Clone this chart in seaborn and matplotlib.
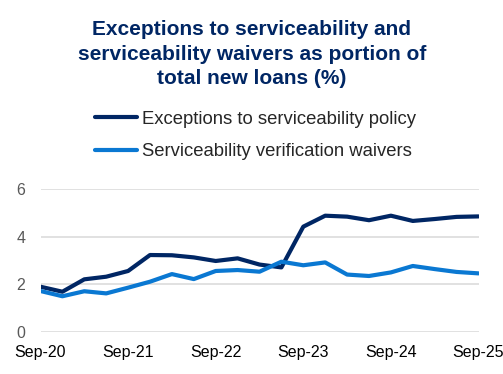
"""Serviceability exceptions and waivers as a share of new loans."""

import matplotlib

matplotlib.use("Agg")
import matplotlib.pyplot as plt
import pandas as pd
import seaborn as sns

# quarterly, Sep-20 .. Sep-25
quarters = [
    "Sep-20", "Dec-20", "Mar-21", "Jun-21", "Sep-21", "Dec-21", "Mar-22",
    "Jun-22", "Sep-22", "Dec-22", "Mar-23", "Jun-23", "Sep-23", "Dec-23",
    "Mar-24", "Jun-24", "Sep-24", "Dec-24", "Mar-25", "Jun-25", "Sep-25",
]
exceptions = [
    1.90, 1.69, 2.21, 2.32, 2.56, 3.23, 3.22, 3.13, 2.98, 3.09, 2.83,
    2.71, 4.42, 4.88, 4.84, 4.69, 4.88, 4.66, 4.74, 4.83, 4.85,
]
waivers = [
    1.72, 1.50, 1.71, 1.62, 1.86, 2.11, 2.43, 2.22, 2.56, 2.60, 2.53,
    2.95, 2.80, 2.92, 2.41, 2.35, 2.50, 2.77, 2.64, 2.52, 2.46,
]
series_names = ["Exceptions to serviceability policy", "Serviceability verification waivers"]
tick_labels = ["Sep-20", "Sep-21", "Sep-22", "Sep-23", "Sep-24", "Sep-25"]

NAVY = "#002664"
LIGHT = "#0A78D2"

df = pd.DataFrame({
    "idx": list(range(len(quarters))) * 2,
    "value": exceptions + waivers,
    "series": [series_names[0]] * len(quarters) + [series_names[1]] * len(quarters),
})

sns.set_style("white")
plt.rcParams["font.family"] = ["Liberation Sans", "DejaVu Sans"]

fig = plt.figure(figsize=(5.03, 3.74), dpi=100)
ax = fig.add_axes([40.5 / 503, 42 / 374, 438 / 503, 143 / 374])

sns.lineplot(
    data=df, x="idx", y="value", hue="series",
    palette={series_names[0]: NAVY, series_names[1]: LIGHT},
    linewidth=3, ax=ax, legend=False, solid_capstyle="round",
)

ax.set_xlim(0, len(quarters) - 1)
ax.set_ylim(0, 6)
ax.set_yticks([0, 2, 4, 6])
ax.set_xticks([quarters.index(t) for t in tick_labels])
ax.set_xticklabels(tick_labels)
ax.set_xlabel("")
ax.set_ylabel("")
ax.grid(axis="y", color="#D9D9D9", linewidth=1.1)
ax.set_axisbelow(True)
for s in ax.spines.values():
    s.set_visible(False)
ax.tick_params(axis="y", length=0, pad=11, labelsize=11.5, labelcolor="#595959")
ax.tick_params(axis="x", length=0, pad=9, labelsize=11.5, labelcolor="#000000")

fig.text(
    252 / 503, 1 - 54 / 374,
    "Exceptions to serviceability and\nserviceability waivers as portion of\ntotal new loans (%)",
    ha="center", va="center", multialignment="center",
    fontsize=15, fontweight="bold", color=NAVY, linespacing=1.35,
)

handles = [
    plt.Line2D([], [], color=NAVY, linewidth=3, solid_capstyle="round"),
    plt.Line2D([], [], color=LIGHT, linewidth=3, solid_capstyle="round"),
]
fig.legend(
    handles, series_names, loc="center left",
    bbox_to_anchor=(95 / 503, 1 - 135.5 / 374), frameon=False,
    fontsize=13.3, handlelength=2.27, handletextpad=0.3,
    labelspacing=0.85, borderpad=0, borderaxespad=0,
)

fig.savefig("out.png", dpi=100)
